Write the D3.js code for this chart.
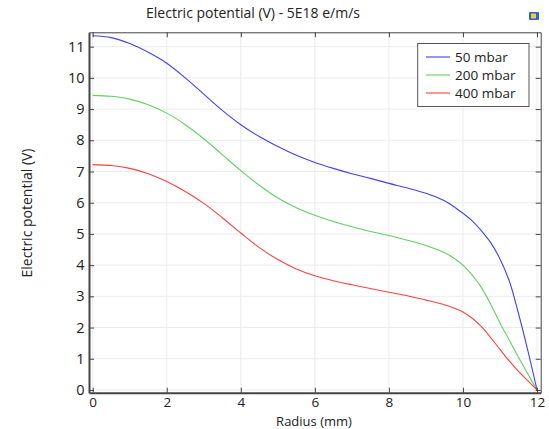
<!DOCTYPE html>
<html><head><meta charset="utf-8">
<script src="https://cdn.jsdelivr.net/npm/d3@7"></script>
<style>body{margin:0;background:#fff}svg{display:block}text{font-family:"Open Sans",sans-serif;fill:#222}</style>
</head><body><svg id="c" width="549" height="429"></svg>
<script>
const radius = [0,0.5,1,1.5,2,2.5,3,3.5,4,4.5,5,5.5,6,6.5,7,7.5,8,8.5,9,9.5,9.75,10,10.25,10.5,10.75,11,11.25,11.5,11.75,12];
const v50  = [11.35,11.29,11.1,10.82,10.47,10.0,9.48,8.96,8.5,8.12,7.8,7.52,7.29,7.1,6.93,6.78,6.62,6.47,6.3,6.06,5.88,5.66,5.42,5.1,4.72,4.2,3.5,2.45,1.28,0];
const v200 = [9.44,9.41,9.32,9.14,8.87,8.5,8.05,7.54,7.03,6.56,6.15,5.84,5.6,5.4,5.23,5.08,4.95,4.8,4.63,4.4,4.23,4.0,3.68,3.28,2.75,2.15,1.6,1.05,0.52,0];
const v400 = [7.22,7.19,7.1,6.93,6.68,6.36,5.98,5.52,5.03,4.56,4.18,3.88,3.66,3.5,3.37,3.25,3.13,3.02,2.88,2.73,2.63,2.5,2.3,2.03,1.68,1.3,0.93,0.6,0.3,0];
const seriesNames = ["50 mbar","200 mbar","400 mbar"];
const seriesColors = ["#0000ff","#2fbf2f","#ff0000"];
const xTicks = [0,2,4,6,8,10,12];
const yTicks = [0,1,2,3,4,5,6,7,8,9,10,11];
const title = "Electric potential (V) - 5E18 e/m/s";
const xLabel = "Radius (mm)";
const yLabel = "Electric potential (V)";

const svg = d3.select("#c");
const L=89, R=540.7, T=32.3, B=392.7;
const x = d3.scaleLinear().domain([-0.1,12.1]).range([L,R]);
const y = d3.scaleLinear().domain([-0.087,11.46]).range([B,T]);

// grid
const g = svg.append("g");
g.selectAll(".gx").data(xTicks).join("line").attr("x1",d=>x(d)).attr("x2",d=>x(d)).attr("y1",T).attr("y2",B).attr("stroke","#ececec");
g.selectAll(".gy").data(yTicks).join("line").attr("y1",d=>y(d)).attr("y2",d=>y(d)).attr("x1",L).attr("x2",R).attr("stroke","#ececec");

// lines
const data = [v50,v200,v400];
const line = d3.line().x((d,i)=>x(radius[i])).y(d=>y(d)).curve(d3.curveCatmullRom.alpha(0.5));
data.forEach((s,k)=>{
  svg.append("path").datum(s).attr("d",line).attr("fill","none").attr("stroke",seriesColors[k]).attr("stroke-width",1.1).attr("stroke-opacity",0.75);
});

// axes (inward ticks, mirrored)
const ax = (gen, tr) => svg.append("g").attr("transform",tr).call(gen);
const axB = ax(d3.axisBottom(x).tickValues(xTicks).tickSizeInner(-5).tickSizeOuter(0).tickPadding(5), `translate(0,${B})`);
const axL = ax(d3.axisLeft(y).tickValues(yTicks).tickSizeInner(-5).tickSizeOuter(0).tickPadding(4.5), `translate(${L},0)`);
const axT = ax(d3.axisTop(x).tickValues(xTicks).tickSizeInner(-5).tickSizeOuter(0).tickFormat(""), `translate(0,${T})`);
const axR = ax(d3.axisRight(y).tickValues(yTicks).tickSizeInner(-5).tickSizeOuter(0).tickFormat(""), `translate(${R},0)`);
[axB,axL,axT,axR].forEach(a=>{
  a.selectAll("text").style("font-family",'"Open Sans",sans-serif').style("font-size","14.5px").attr("fill","#222");
  a.selectAll("line").attr("stroke","#444");
  a.select(".domain").attr("stroke","#444");
});
axB.selectAll("text").style("font-size","13.5px");
axB.select(".domain").attr("stroke-width",2);
axL.select(".domain").attr("stroke-width",2);

// titles
svg.append("text").attr("x",253).attr("y",18).attr("text-anchor","middle").style("font-size","14px").text(title);
svg.append("text").attr("x",314).attr("y",425.5).attr("text-anchor","middle").style("font-size","13px").text(xLabel);
svg.append("text").attr("transform","translate(32,213) rotate(-90)").attr("text-anchor","middle").style("font-size","14px").text(yLabel);

// legend
const lg = svg.append("g");
lg.append("rect").attr("x",417.7).attr("y",43.5).attr("width",111.3).attr("height",63).attr("fill","#fff").attr("stroke","#555");
seriesNames.forEach((n,k)=>{
  const yy = 57 + k*18;
  lg.append("line").attr("x1",426).attr("x2",450).attr("y1",yy).attr("y2",yy).attr("stroke",seriesColors[k]).attr("stroke-width",1.1).attr("stroke-opacity",0.75);
  lg.append("text").attr("x",455).attr("y",yy+5).style("font-size","13.5px").text(n);
});

// icon
svg.append("rect").attr("x",529).attr("y",12).attr("width",10).attr("height",8).attr("rx",1).attr("fill","#2b66c4");
svg.append("rect").attr("x",531).attr("y",13.5).attr("width",5).attr("height",5).attr("fill","#f2c94c");
</script></body></html>
